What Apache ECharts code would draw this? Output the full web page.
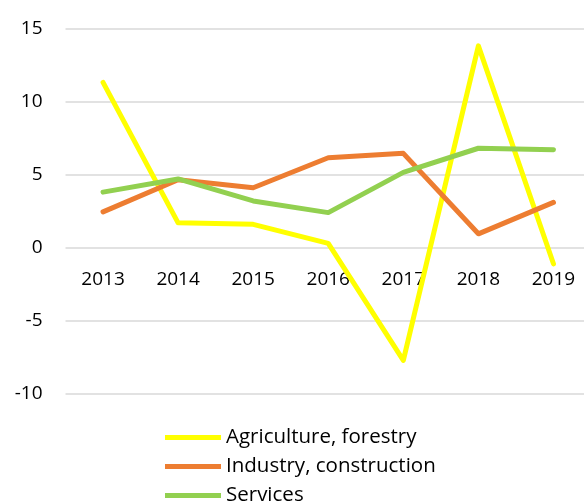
<!DOCTYPE html>
<html><head><meta charset="utf-8">
<script src="https://cdn.jsdelivr.net/npm/echarts@6/dist/echarts.min.js"></script>
<style>html,body{margin:0;padding:0;background:#fff;overflow:hidden}#c{width:591px;height:502px}</style>
</head><body><div id="c"></div>
<script>
const years = ['2013','2014','2015','2016','2017','2018','2019'];
const agriculture = [11.3, 1.7, 1.6, 0.3, -7.7, 13.8, -1.1];
const industry = [2.45, 4.65, 4.1, 6.15, 6.45, 0.95, 3.1];
const services = [3.8, 4.7, 3.2, 2.4, 5.15, 6.8, 6.7];
const seriesNames = ['Agriculture, forestry', 'Industry, construction', 'Services'];
const colors = ['#FFFF00', '#ED7D31', '#92D050'];
const font = 'Open Sans, Liberation Sans, Arial, sans-serif';
const chart = echarts.init(document.getElementById('c'));
const mk = (name, data, color) => ({
  name, type: 'line', data, color, symbol: 'none', smooth: false, z: 3,
  lineStyle: { width: 5, color, cap: 'round', join: 'round' }
});
chart.setOption({
  animation: false,
  grid: { left: 65.5, right: 0, top: 28.3, bottom: 108 },
  xAxis: {
    type: 'category', data: years, boundaryGap: true, offset: -146.4, z: 1,
    axisLine: { show: false, onZero: false },
    axisTick: { show: false },
    axisLabel: { color: '#000', fontSize: 19, fontFamily: font, margin: 22 }
  },
  yAxis: {
    type: 'value', min: -10, max: 15, interval: 5,
    axisLine: { show: false }, axisTick: { show: false },
    axisLabel: { color: '#000', fontSize: 19, fontFamily: font, margin: 23 },
    splitLine: { lineStyle: { color: '#d9d9d9', width: 1.5 } }
  },
  legend: {
    orient: 'vertical', left: 160, top: 422, height: 90, itemWidth: 56, itemHeight: 5,
    itemGap: 8, icon: 'rect', itemStyle: { borderRadius: 2.5 },
    textStyle: { color: '#000', fontSize: 20.5, fontFamily: font, lineHeight: 21 },
    data: seriesNames
  },
  series: [
    mk(seriesNames[0], agriculture, colors[0]),
    mk(seriesNames[1], industry, colors[1]),
    mk(seriesNames[2], services, colors[2])
  ]
});
</script></body></html>
